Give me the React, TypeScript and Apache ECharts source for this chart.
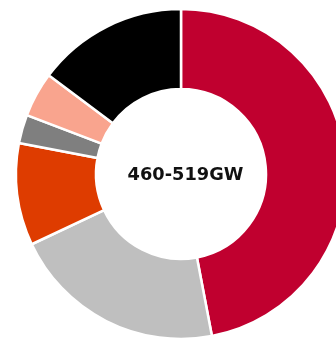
import React, { useEffect, useRef } from "react";
import * as echarts from "echarts";

const categories = ["A", "B", "C", "D", "E", "F"];
const values = [47, 21, 10, 2.8, 4.4, 14.8];
const colors = ["#C0002F", "#BFBFBF", "#DE3C00", "#7F7F7F", "#F9A48E", "#000000"];
const centerLabel = "460-519GW";

export default function App() {
  const ref = useRef<HTMLDivElement>(null);
  useEffect(() => {
    const chart = echarts.init(ref.current!, null, { renderer: "svg" });
    chart.setOption({
      animation: false,
      graphic: [
        {
          type: "text",
          x: 185.5,
          y: 173.5,
          style: {
            text: centerLabel,
            fontSize: 17.8,
            fontWeight: "bold",
            fontFamily: "DejaVu Sans",
            fill: "#111",
            align: "center",
            verticalAlign: "middle",
          },
        },
      ],
      series: [
        {
          type: "pie",
          center: [181, 174],
          radius: [85, 165],
          startAngle: 90,
          clockwise: true,
          label: { show: false },
          labelLine: { show: false },
          itemStyle: { borderColor: "#fff", borderWidth: 2.5 },
          data: categories.map((c, i) => ({
            name: c,
            value: values[i],
            itemStyle: { color: colors[i] },
          })),
        },
      ],
    });
    return () => chart.dispose();
  }, []);
  return (
    <div
      ref={ref}
      style={{ position: "fixed", left: 0, top: 0, width: 336, height: 338 }}
    />
  );
}
